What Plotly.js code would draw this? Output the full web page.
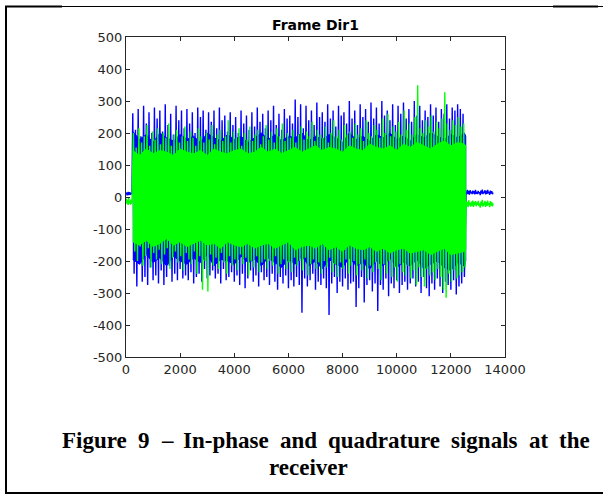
<!DOCTYPE html>
<html><head><meta charset="utf-8">
<script src="https://cdn.plot.ly/plotly-3.0.1.min.js"></script>
<style>html,body{margin:0;padding:0;background:#fff}</style>
</head><body><div id="chart" style="width:603px;height:495px"></div>
<script>
// Quiet lead-in samples (x = 0..220, step 20)
const blueStart = [8, 14, 5, 12, 16, 6, 11, 15, 7, 13, 10, 12];
const greenStart = [-18, -5, -22, -10, -25, -3, -20, -12, -24, -8, -21, -14];
// Burst: local peak (hi) and trough (lo) read every 100 samples from 250 to 12450
const blueHi = [262,210,275,190,285,230,265,200,280,245, 270,205,290,225,260,195,285,240,270,215,
  275,230,265,200,280,250,270,210,265,235, 270,215,280,240,255,205,265,225,250,200,
  270,230,255,210,265,220,280,235,260,215, 270,240,285,225,260,210,275,245,255,230,
  305,250,290,215,285,240,270,225,295,250, 265,235,290,245,270,220,285,255,265,230,
  300,245,270,225,290,250,275,235,295,245, 280,230,300,255,270,240,290,225,285,260,
  295,245,275,235,300,255,285,240,270,250, 290,255,280,235,275,260,290,245,280,270,
  290,275,260];
const blueLo = [-240,-280,-210,-265,-250,-275,-220,-260,-245,-270, -230,-275,-250,-215,-265,-240,-260,-225,-255,-245,
  -260,-235,-270,-250,-240,-265,-225,-255,-245,-230, -255,-240,-270,-225,-260,-250,-235,-265,-245,-275,
  -240,-285,-255,-230,-265,-245,-280,-235,-260,-250, -275,-240,-265,-290,-250,-270,-245,-285,-260,-280,
  -250,-275,-362,-255,-280,-260,-240,-290,-265,-275, -255,-285,-369,-270,-250,-300,-265,-280,-255,-290,
  -270,-265,-344,-285,-250,-330,-275,-260,-295,-270, -356,-275,-290,-255,-310,-270,-285,-260,-300,-275,
  -265,-290,-270,-255,-280,-265,-300,-250,-285,-310, -270,-290,-255,-280,-300,-265,-275,-290,-260,-305,
  -280,-270,-250];
const greenHi = [200,155,215,170,190,225,160,205,180,215, 165,200,185,230,160,195,210,170,190,220,
  175,205,185,160,215,190,170,200,180,225, 165,195,210,175,190,240,170,205,185,215,
  160,200,180,220,175,195,210,165,190,225, 180,205,170,215,190,230,175,200,185,210,
  170,195,220,180,205,190,235,175,210,195, 185,220,170,200,240,190,210,180,225,195,
  205,185,230,195,215,175,240,200,190,225, 210,185,245,200,260,190,220,205,235,195,
  270,210,230,195,250,349,215,200,240,220, 255,205,235,215,245,327,230,210,240,225,
  250,220,230];
const greenLo = [-170,-200,-155,-215,-185,-160,-220,-175,-195,-165, -210,-180,-160,-225,-190,-170,-205,-185,-230,-175,
  -195,-210,-170,-240,-185,-290,-200,-295,-180,-215, -190,-225,-175,-205,-240,-185,-215,-195,-230,-180,
  -210,-190,-245,-200,-220,-185,-235,-205,-195,-225, -200,-215,-185,-240,-210,-195,-225,-205,-235,-190,
  -215,-200,-230,-190,-245,-210,-195,-225,-205,-240, -200,-220,-190,-235,-210,-250,-205,-225,-195,-240,
  -215,-200,-245,-210,-230,-195,-255,-215,-235,-205, -225,-260,-210,-240,-200,-250,-220,-265,-210,-235,
  -245,-215,-255,-230,-275,-220,-250,-280,-225,-245, -235,-260,-225,-250,-290,-315,-240,-265,-230,-255,
  -245,-235,-220];
// Edge of the dense (solid-looking) core, read every 250 samples from 250 (last = 12550)
const blueCoreHi = [205,180,195,170,200,185,175,195,180,190, 170,200,185,175,195,180,190,170,185,200,
  180,195,175,190,185,200,175,190,180,195, 185,170,200,180,190,175,195,185,200,180,
  190,175,195,185,200,190,180,195,185,200, 190];
const blueCoreLo = [-195,-210,-180,-205,-190,-215,-185,-200,-210,-190, -205,-180,-215,-195,-200,-210,-185,-205,-195,-215,
  -190,-205,-220,-195,-210,-185,-215,-200,-225,-195, -210,-220,-190,-215,-205,-225,-200,-215,-190,-220,
  -205,-215,-195,-225,-210,-200,-220,-230,-205,-215, -200];
const greenCoreHi = [145,130,150,135,145,140,130,150,140,135, 145,130,150,140,135,145,150,135,140,155,
  140,150,135,145,155,140,150,160,145,155, 150,140,160,150,145,165,155,150,160,145,
  165,155,170,160,150,165,175,160,170,165, 160];
const greenCoreLo = [-140,-150,-135,-155,-145,-130,-150,-140,-155,-145, -135,-150,-145,-160,-140,-150,-155,-145,-160,-150,
  -145,-160,-150,-140,-165,-155,-150,-160,-145,-165, -155,-170,-150,-160,-165,-155,-170,-160,-175,-165,
  -160,-175,-170,-165,-180,-170,-160,-180,-175,-170, -165];
// Quiet tail samples (x = 12560..13560, step 25)
const blueTail = [18,8,22,10,19,7,21,12,17,9,20,11,18,8,22,10,16,9,19,12,15,6,20,11,23,9,17,13,21,8,19,10,22,12,16,7,20,11,18,9,14];
const greenTail = [-12,-28,-15,-32,-10,-26,-18,-30,-14,-27,-11,-31,-16,-25,-13,-29,-17,-24,-12,-28,-20,-33,-14,-27,-9,-30,-18,-26,-12,-31,-15,-28,-11,-25,-19,-32,-13,-27,-16,-29,-20];

const xTicks = [0, 2000, 4000, 6000, 8000, 10000, 12000, 14000];
const xTickLabels = ['0', '2000', '4000', '6000', '8000', '10000', '12000', '14000'];
const yTicks = [-500, -400, -300, -200, -100, 0, 100, 200, 300, 400, 500];
const yTickLabels = ['-500', '-400', '-300', '-200', '-100', '0', '100', '200', '300', '400', '500'];

const titleText = 'Frame Dir1';
const captionLine1 = ['Figure', '9', '–', 'In-phase', 'and', 'quadrature', 'signals', 'at', 'the'];
const captionLine2 = 'receiver';

function buildSeries(start, hi, lo, tail, offset) {
  const x = [], y = [];
  start.forEach((v, i) => { x.push(i * 20); y.push(v); });
  for (let i = 0; i < hi.length; i++) {
    x.push(250 + offset + 100 * i); y.push(hi[i]);
    x.push(300 + offset + 100 * i); y.push(lo[i]);
  }
  tail.forEach((v, i) => { x.push(12560 + 25 * i); y.push(v); });
  return { x, y };
}
function buildCore(hi, lo) {
  const xs = hi.map((v, i) => Math.min(250 + 250 * i, 12550));
  const x = xs.concat(xs.slice().reverse());
  const y = hi.concat(lo.slice().reverse());
  return { x, y };
}
const b = buildSeries(blueStart, blueHi, blueLo, blueTail, 0);
const g = buildSeries(greenStart, greenHi, greenLo, greenTail, 25);
const bc = buildCore(blueCoreHi, blueCoreLo);
const gc = buildCore(greenCoreHi, greenCoreLo);

const traces = [
  { type: 'scatter', mode: 'lines', x: bc.x, y: bc.y, fill: 'toself', fillcolor: '#0000ff', line: { color: '#0000ff', width: 1 }, hoverinfo: 'skip' },
  { type: 'scatter', mode: 'lines', x: b.x, y: b.y, line: { color: '#0000ff', width: 1.4 }, hoverinfo: 'skip' },
  { type: 'scatter', mode: 'lines', x: gc.x, y: gc.y, fill: 'toself', fillcolor: '#00ff00', line: { color: '#00ff00', width: 1 }, hoverinfo: 'skip' },
  { type: 'scatter', mode: 'lines', x: g.x, y: g.y, line: { color: '#00ff00', width: 1.4 }, hoverinfo: 'skip' }
];

// pixel -> paper helpers (plot area 126..505 x, 37..357 y)
const L = 126, R = 505, T = 37, B = 357;
const px = v => (v - L) / (R - L);
const py = v => (B - v) / (B - T);

const axisCommon = {
  showline: true, linecolor: '#262626', linewidth: 1, mirror: 'ticks',
  ticks: 'inside', ticklen: 4, tickcolor: '#262626', tickwidth: 1,
  showgrid: false, zeroline: false, fixedrange: true,
  tickfont: { family: 'DejaVu Sans', size: 13, color: '#262626' }
};

// justified first caption line: spread words across 62..590 px
const capFont = { family: 'Liberation Serif', size: 23, color: '#000' };
const ctx = document.createElement('canvas').getContext('2d');
ctx.font = 'bold 23px "Liberation Serif"';
const widths = captionLine1.map(w => ctx.measureText(w).width);
const totalW = widths.reduce((a, c) => a + c, 0);
const lineL = 62, lineR = 590;
const gap = (lineR - lineL - totalW) / (captionLine1.length - 1);
const annotations = [];
let cx = lineL;
captionLine1.forEach((w, i) => {
  annotations.push({ text: '<b>' + w + '</b>', xref: 'paper', yref: 'paper', x: px(cx), y: py(440),
    xanchor: 'left', yanchor: 'middle', showarrow: false, font: capFont, borderpad: 0, borderwidth: 0 });
  cx += widths[i] + gap;
});
annotations.push({ text: '<b>' + captionLine2 + '</b>', xref: 'paper', yref: 'paper', x: px(308.5), y: py(467),
  xanchor: 'center', yanchor: 'middle', showarrow: false, font: capFont, borderpad: 0, borderwidth: 0 });

const layout = {
  width: 603, height: 495,
  margin: { l: L, r: 603 - R, t: T, b: 495 - B, pad: 0 },
  paper_bgcolor: '#ffffff', plot_bgcolor: '#ffffff',
  showlegend: false,
  title: { text: '<b>' + titleText + '</b>', font: { family: 'DejaVu Sans', size: 14, color: '#000' },
    x: 0.5, xref: 'paper', xanchor: 'center', y: 1 - 25 / 495, yref: 'container', yanchor: 'middle' },
  xaxis: Object.assign({}, axisCommon, { range: [0, 14000], tickvals: xTicks, ticktext: xTickLabels }),
  yaxis: Object.assign({}, axisCommon, { range: [-500, 500], tickvals: yTicks, ticktext: yTickLabels }),
  shapes: [
    { type: 'line', xref: 'paper', yref: 'paper', x0: px(6), x1: px(603), y0: py(6.5), y1: py(6.5), line: { color: '#000', width: 1 } },
    { type: 'line', xref: 'paper', yref: 'paper', x0: px(5), x1: px(62), y0: py(6.5), y1: py(6.5), line: { color: '#000', width: 2 } },
    { type: 'line', xref: 'paper', yref: 'paper', x0: px(553), x1: px(598), y0: py(6.5), y1: py(6.5), line: { color: '#000', width: 2 } },
    { type: 'line', xref: 'paper', yref: 'paper', x0: px(6), x1: px(6), y0: py(6), y1: py(493), line: { color: '#000', width: 2 } },
    { type: 'line', xref: 'paper', yref: 'paper', x0: px(5), x1: px(603), y0: py(493), y1: py(493), line: { color: '#000', width: 2 } }
  ],
  annotations: annotations
};

Plotly.newPlot('chart', traces, layout, { staticPlot: true, displayModeBar: false });
</script>
</body></html>
